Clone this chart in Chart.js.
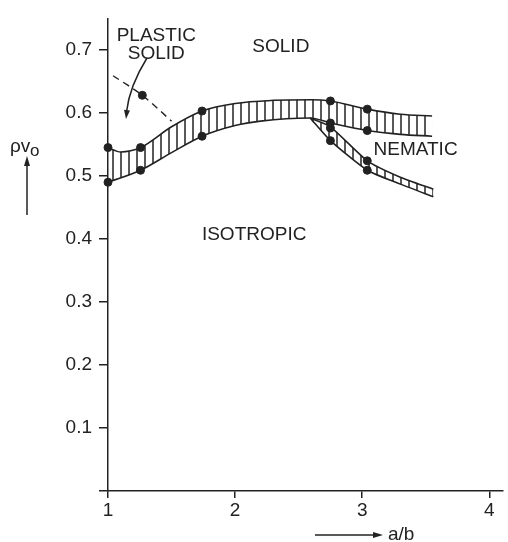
<!DOCTYPE html>
<html>
<head>
<meta charset="utf-8">
<script src="https://cdn.jsdelivr.net/npm/chart.js@4.4.1/dist/chart.umd.min.js"></script>
<style>
  body { margin: 0; background: #fff; }
  canvas { display: block; }
</style>
</head>
<body>
<canvas id="phaseChart" width="508" height="542"></canvas>
<script>
// values (x = a/b, y = rho v0)
const solidUpper = [[1, 0.545], [1.1, 0.538], [1.256, 0.545], [1.5, 0.578], [1.74, 0.603], [2.0, 0.615], [2.3, 0.62], [2.6, 0.621], [2.75, 0.619], [3.04, 0.606], [3.3, 0.598], [3.55, 0.595]];
const solidLower = [[1, 0.49], [1.256, 0.509], [1.5, 0.537], [1.74, 0.563], [2.0, 0.58], [2.2, 0.587], [2.59, 0.592], [2.75, 0.584], [3.04, 0.572], [3.3, 0.566], [3.55, 0.563]];
const nematicUpper = [[2.59, 0.592], [2.75, 0.578], [3.04, 0.524], [3.3, 0.498], [3.56, 0.479]];
const nematicLower = [[2.59, 0.592], [2.75, 0.556], [3.04, 0.509], [3.3, 0.487], [3.56, 0.467]];
const plasticLine = [[1.04, 0.659], [1.27, 0.628], [1.5, 0.587]];
const measured = [[1, 0.545], [1, 0.49], [1.256, 0.545], [1.256, 0.509], [1.74, 0.603], [1.74, 0.563], [1.27, 0.628],
  [2.75, 0.619], [2.75, 0.584], [2.75, 0.576], [2.75, 0.556], [3.04, 0.606], [3.04, 0.572], [3.04, 0.524], [3.04, 0.509]];
const xTicks = [1, 2, 3, 4];
const yTicks = [0, 0.1, 0.2, 0.3, 0.4, 0.5, 0.6, 0.7];
const regionLabels = [
  { text: 'PLASTIC', x: 1.38, y: 0.722 },
  { text: 'SOLID', x: 1.38, y: 0.694 },
  { text: 'SOLID', x: 2.36, y: 0.705 },
  { text: 'NEMATIC', x: 3.42, y: 0.541 },
  { text: 'ISOTROPIC', x: 2.15, y: 0.406 }
];

const ink = '#222';
const font = '19px "Liberation Sans", Arial, sans-serif';

const toPoints = arr => arr.map(p => ({ x: p[0], y: p[1] }));

const hatch = (step) => {
  const c = document.createElement('canvas');
  c.width = step;
  c.height = 8;
  const g = c.getContext('2d');
  g.strokeStyle = ink;
  g.lineWidth = 1.5;
  g.beginPath();
  g.moveTo(1, 0);
  g.lineTo(1, 8);
  g.stroke();
  return g.createPattern(c, 'repeat');
};

const arrowHead = (ctx, x, y, angle, len, wid) => {
  ctx.save();
  ctx.translate(x, y);
  ctx.rotate(angle);
  ctx.beginPath();
  ctx.moveTo(0, 0);
  ctx.lineTo(-len, -wid / 2);
  ctx.lineTo(-len, wid / 2);
  ctx.closePath();
  ctx.fill();
  ctx.restore();
};

// text and arrows on top of the chart
const notes = {
  id: 'notes',
  afterDraw(chart) {
    const ctx = chart.ctx;
    const xs = chart.scales.x;
    const ys = chart.scales.y;
    ctx.save();
    ctx.fillStyle = ink;
    ctx.strokeStyle = ink;
    ctx.font = font;
    ctx.textAlign = 'center';
    ctx.textBaseline = 'middle';
    regionLabels.forEach(l => {
      ctx.fillText(l.text, xs.getPixelForValue(l.x), ys.getPixelForValue(l.y));
    });

    // curved arrow from PLASTIC SOLID
    ctx.lineWidth = 1.5;
    ctx.beginPath();
    ctx.moveTo(147, 58);
    ctx.quadraticCurveTo(129.5, 86, 126.5, 112);
    ctx.stroke();
    arrowHead(ctx, 126, 119, Math.atan2(32, -3.5), 9, 6);

    // y title
    ctx.textAlign = 'left';
    ctx.textBaseline = 'alphabetic';
    ctx.fillText('\u03c1v', 10, 152);
    ctx.font = '17px "Liberation Sans", Arial, sans-serif';
    ctx.fillText('o', 30, 156);
    ctx.beginPath();
    ctx.moveTo(27, 215);
    ctx.lineTo(27, 164);
    ctx.stroke();
    arrowHead(ctx, 27, 156, -Math.PI / 2, 10, 6);

    // x title
    ctx.font = font;
    ctx.beginPath();
    ctx.moveTo(315, 535);
    ctx.lineTo(375, 535);
    ctx.stroke();
    arrowHead(ctx, 383, 535, 0, 10, 6);
    ctx.fillText('a/b', 388, 540);
    ctx.restore();
  }
};

const edge = (data, extra) => Object.assign({
  data: toPoints(data),
  borderColor: ink,
  borderWidth: 1.6,
  pointRadius: 0,
  fill: false,
  cubicInterpolationMode: 'monotone'
}, extra);

new Chart(document.getElementById('phaseChart'), {
  type: 'line',
  data: {
    datasets: [
      edge(solidUpper, { fill: '+1', backgroundColor: hatch(8) }),
      edge(solidLower),
      edge(nematicUpper, { fill: '+1', backgroundColor: hatch(8), tension: 0.2, cubicInterpolationMode: 'default' }),
      edge(nematicLower, { tension: 0.2, cubicInterpolationMode: 'default' }),
      edge(plasticLine, { borderDash: [7, 5], borderWidth: 1.4, tension: 0.3, cubicInterpolationMode: 'default' }),
      {
        data: toPoints(measured),
        showLine: false,
        pointRadius: 4,
        pointBackgroundColor: ink,
        pointBorderColor: ink,
        clip: false
      }
    ]
  },
  options: {
    responsive: false,
    animation: false,
    layout: { padding: { top: 12, left: 0, right: 0, bottom: 0 } },
    plugins: { legend: { display: false }, tooltip: { enabled: false } },
    scales: {
      x: {
        type: 'linear',
        min: 1,
        max: 4.108,
        afterBuildTicks: s => { s.ticks = xTicks.map(v => ({ value: v })); },
        afterFit: s => { s.height = 51; },
        border: { display: true, color: ink, width: 1.5 },
        grid: { drawOnChartArea: false, drawTicks: true, tickLength: 7, color: ink, lineWidth: 1.5 },
        ticks: { color: ink, font: { family: '"Liberation Sans", Arial, sans-serif', size: 19 }, padding: 1, maxRotation: 0 }
      },
      y: {
        type: 'linear',
        min: 0,
        max: 0.75,
        afterBuildTicks: s => { s.ticks = yTicks.map(v => ({ value: v })); },
        afterFit: s => { s.width = 108; },
        border: { display: true, color: ink, width: 1.5 },
        grid: { drawOnChartArea: false, drawTicks: true, tickLength: 9, color: ink, lineWidth: 1.5 },
        ticks: {
          color: ink,
          font: { family: '"Liberation Sans", Arial, sans-serif', size: 19 },
          padding: 7,
          callback: v => (v === 0 ? '' : v.toFixed(1))
        }
      }
    }
  },
  plugins: [notes]
});
</script>
</body>
</html>
